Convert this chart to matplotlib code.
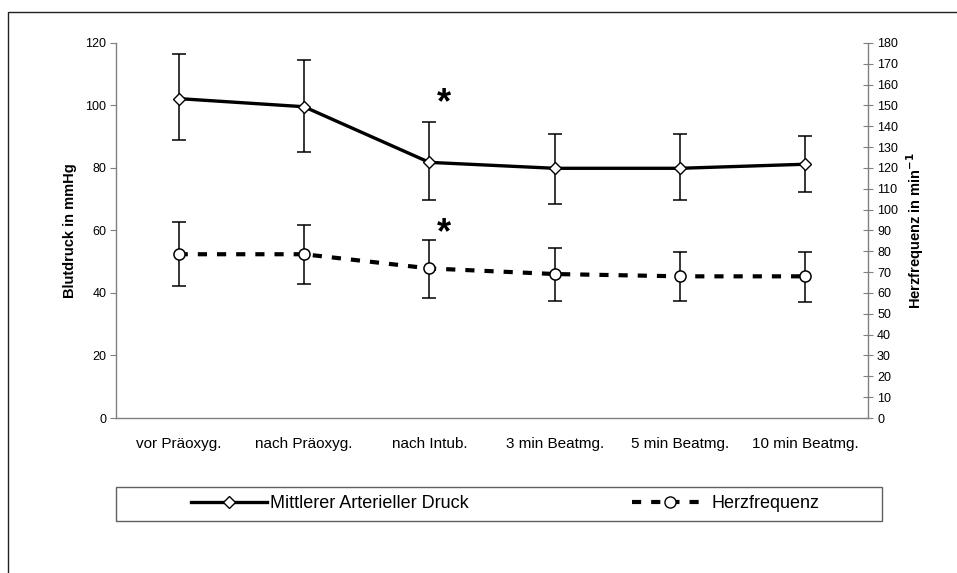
#!/usr/bin/env python3

import numpy as np
import matplotlib as mpl
mpl.use('Agg')
import matplotlib.pyplot as plt
from matplotlib.patches import Rectangle
from matplotlib.lines import Line2D

#-----------------------------------------------------------------------------#

phasen = ['vor Präoxyg.', 'nach Präoxyg.', 'nach Intub.',
          '3 min Beatmg.', '5 min Beatmg.', '10 min Beatmg.']

# Mittlerer arterieller Druck (mmHg), linke Achse
map_mittel = [102.2, 99.6, 81.8, 79.9, 79.9, 81.2]
map_oben = [116.5, 114.4, 94.6, 90.8, 90.8, 90.1]
map_unten = [89.0, 85.0, 69.8, 68.5, 69.8, 72.2]

# Herzfrequenz (1/min), rechte Achse
hf_mittel = [78.6, 78.6, 71.8, 69.1, 68.0, 68.0]
hf_oben = [93.9, 92.8, 85.4, 81.4, 79.5, 79.5]
hf_unten = [63.4, 64.3, 57.8, 56.3, 56.3, 55.5]

signifikant = [2]   # Sternchen ueber "nach Intub."

#-----------------------------------------------------------------------------#

plt.rcParams['font.family'] = ['Liberation Sans', 'DejaVu Sans']

fig = plt.figure(figsize=(9.57, 5.73), dpi=100)
ax = fig.add_axes([0.1212, 0.2705, 0.7858, 0.6545])
ax2 = ax.twinx()

x = np.arange(len(phasen))

# MAP
m = np.array(map_mittel)
ax.errorbar(x, m, yerr=[m - np.array(map_unten), np.array(map_oben) - m],
            fmt='none', ecolor='black', elinewidth=1.1, capsize=4.7,
            capthick=1.1, zorder=2)
ax.plot(x, m, color='black', lw=2.4, marker='D', markersize=6.5,
        markerfacecolor='white', markeredgecolor='black',
        markeredgewidth=1.0, zorder=3)

# HF
h = np.array(hf_mittel)
ax2.errorbar(x, h, yerr=[h - np.array(hf_unten), np.array(hf_oben) - h],
             fmt='none', ecolor='black', elinewidth=1.1, capsize=4.7,
             capthick=1.1, zorder=2)
ax2.plot(x, h, color='black', lw=3.0, dashes=(2.2, 2.4), marker='o',
         markersize=8, markerfacecolor='white', markeredgecolor='black',
         markeredgewidth=1.1, zorder=3)

for i in signifikant:
    ax.text(i + 0.12, map_oben[i] + 6.1, '*', fontsize=26, fontweight='bold',
            ha='center', va='center')
    ax2.text(i + 0.12, hf_oben[i] + 3.2, '*', fontsize=26, fontweight='bold',
             ha='center', va='center')

# Achsen
ax.set_xlim(-0.5, len(phasen) - 0.5)
ax.set_ylim(0, 120)
ax2.set_ylim(0, 180)
ax.set_yticks(np.arange(0, 121, 20))
ax2.set_yticks(np.arange(0, 181, 10))
ax.set_xticks(x)
ax.set_xticklabels(phasen, fontsize=11)
ax.tick_params(axis='x', length=0, pad=14)
ax.tick_params(axis='y', labelsize=9, length=4, width=0.8,
               color='#808080', pad=3)
ax2.tick_params(axis='y', labelsize=9, length=7, width=0.8,
                color='#808080', direction='inout', pad=3)

for a in (ax, ax2):
    a.spines['top'].set_visible(False)
    for s in ('left', 'right', 'bottom'):
        a.spines[s].set_color('#808080')
        a.spines[s].set_linewidth(1.0)
ax.spines['right'].set_visible(False)
ax2.spines['left'].set_visible(False)
ax2.spines['bottom'].set_visible(False)

ax.set_ylabel('Blutdruck in mmHg', fontsize=10.5, fontweight='bold')
ax.yaxis.set_label_coords(-0.052, 0.5)
ax2.set_ylabel('Herzfrequenz in min$^{\\mathbf{-1}}$', fontsize=10.5,
               fontweight='bold', rotation=90)
ax2.yaxis.set_label_coords(1.048, 0.5)

# Legende im Kasten unter dem Diagramm
fig.patches.append(Rectangle((116 / 957, 1 - 520.7 / 573), 766 / 957,
                             34 / 573, transform=fig.transFigure,
                             facecolor='white', edgecolor='#606060',
                             lw=1.0))
handles = [
    Line2D([], [], color='black', lw=2.4, marker='D', markersize=6.5,
           markerfacecolor='white', markeredgecolor='black'),
    Line2D([], [], color='black', lw=3.0, dashes=(2.2, 2.4), marker='o',
           markersize=8, markerfacecolor='white', markeredgecolor='black'),
]
fig.legend(handles, ['Mittlerer Arterieller Druck', 'Herzfrequenz'],
           loc='center', bbox_to_anchor=(505 / 957, 1 - 503.7 / 573),
           ncol=2, frameon=False, fontsize=13, handlelength=4.2,
           handletextpad=0.2, columnspacing=9.0)

# Rahmen um die Grafik (rechts und unten abgeschnitten)
fig.patches.append(Rectangle((8 / 957, -0.1), 1.2, 1.1 - 12 / 573,
                             transform=fig.transFigure, facecolor='none',
                             edgecolor='#202020', lw=1.0))

fig.savefig('out.png', dpi=100)
